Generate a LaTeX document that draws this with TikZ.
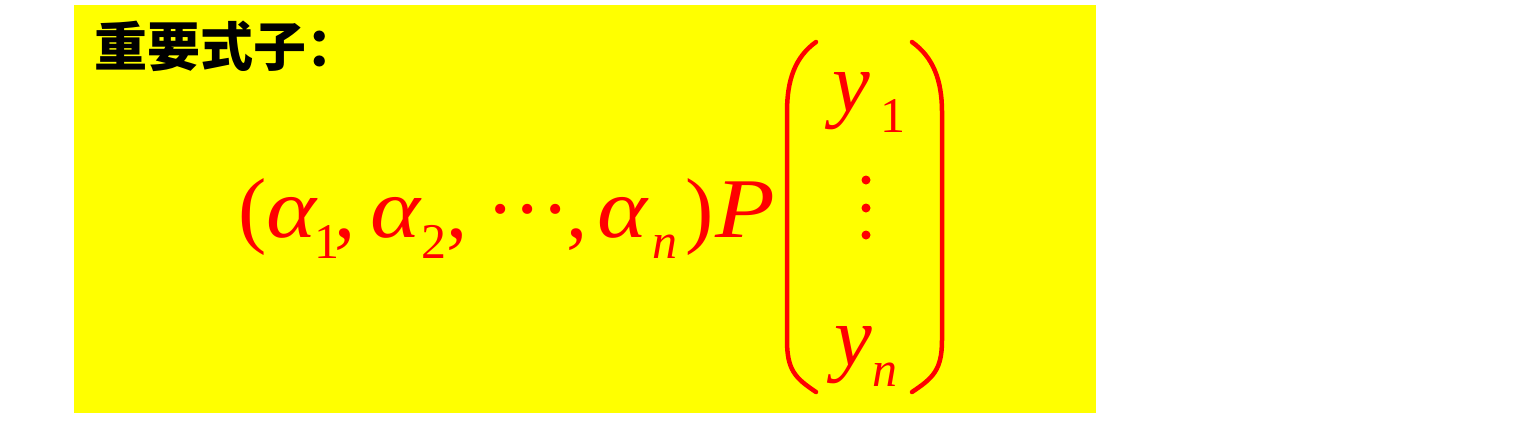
\documentclass[tikz,border=0pt]{standalone}
\usepackage{fontspec}
\usepackage{graphicx}
\setmainfont{Liberation Serif}
\newfontfamily\cjkfont{Noto Sans CJK SC}
\usetikzlibrary{positioning}

\definecolor{paneyellow}{RGB}{255,255,0}
\definecolor{formred}{RGB}{255,0,0}
% a glyph in a box of fixed advance
\newcommand{\slot}[2]{\makebox[#1pt][l]{#2}}
\newcommand{\wideal}{\scalebox{1.12}[1]{\itshape α}}
\newcommand{\lowsub}[1]{\raisebox{-21pt}{\fontsize{50}{50}\selectfont #1}}

\begin{document}
\begin{tikzpicture}[
        x=1pt, y=-1pt,
        pane/.style = {fill=paneyellow, draw=none},
        heading/.style = {font=\cjkfont\bfseries\fontsize{53}{56}\selectfont, text=black, inner sep=0pt},
        formula/.style = {font=\rmfamily\fontsize{85}{90}\selectfont, text=formred, inner sep=0pt, anchor=base west},
        bracket/.style = {draw=formred, line width=4.5pt, line cap=round}
    ]
    \useasboundingbox (0,0) rectangle (1518,421);
    \path[pane] (74,5) rectangle (1096,413);

    \node[heading, anchor=base west] (title) at (94,66) {重要式子：};

    % row vector times P
    \node[formula] (row) at (238,237) {%
        \slot{28}{(}\slot{48.5}{\wideal}\slot{20}{\lowsub{1}}\slot{35.5}{,}%
        \slot{51}{\wideal}\slot{25}{\lowsub{2}}\slot{40.4}{,}%
        \slot{27}{·}\slot{28}{·}\slot{24.6}{·}\slot{31.5}{,}%
        \slot{54.5}{\wideal}\slot{33.5}{\lowsub{\itshape n}}\slot{30}{)}\scalebox{1.15}[1]{\itshape P}};

    % column vector
    \node[formula] (y1) at (832,111) {\slot{48}{\itshape y}\lowsub{1}};
    \foreach \yy in {180,208,235}
        \fill[formred] (866,\yy) circle (4.5pt);
    \node[formula] (yn) at (834,365) {\slot{38}{\itshape y}\lowsub{\itshape n}};

    % brackets of the column
    \draw[bracket] (816,42) .. controls (795,57) and (787,80) .. (787,112)
        -- (787,340) .. controls (787,370) and (795,378) .. (816,392);
    \draw[bracket] (912,42) .. controls (933,57) and (942,80) .. (942,112)
        -- (942,340) .. controls (942,370) and (933,378) .. (912,392);
\end{tikzpicture}
\end{document}
